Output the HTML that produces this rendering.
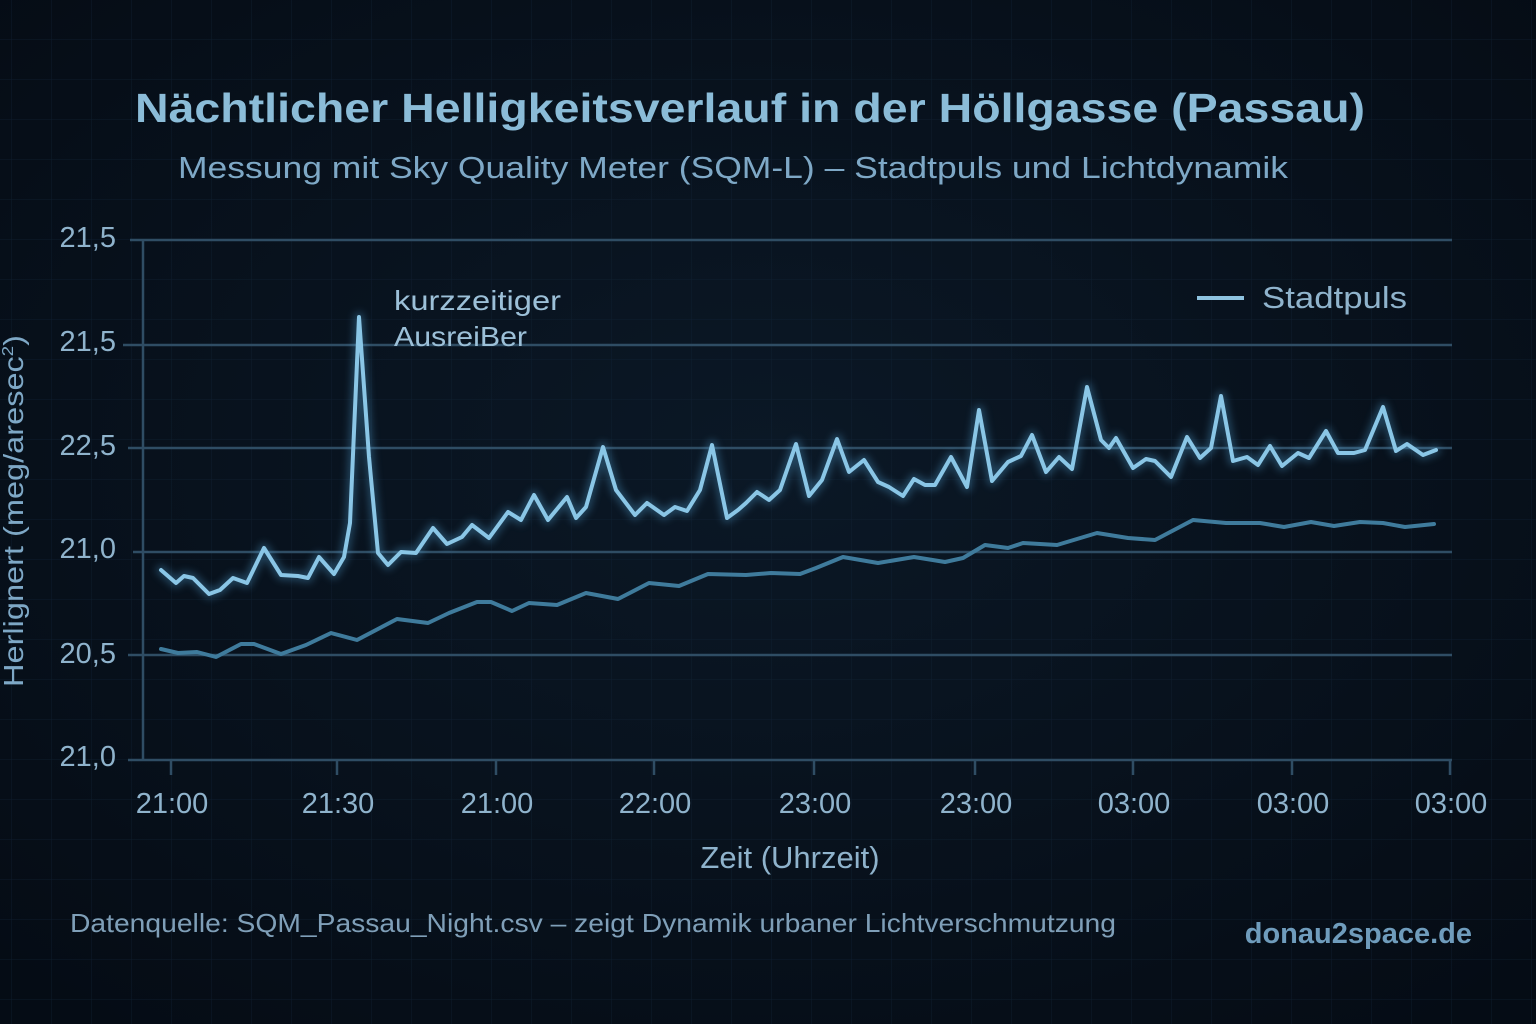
<!DOCTYPE html>
<html><head><meta charset="utf-8"><style>
html,body{margin:0;padding:0;background:#07101b;}
svg{display:block}
text{font-family:"Liberation Sans","DejaVu Sans",sans-serif;}
</style></head><body>
<svg width="1536" height="1024" viewBox="0 0 1536 1024" xmlns="http://www.w3.org/2000/svg">
<defs>
<radialGradient id="bg" cx="50%" cy="45%" r="70%">
<stop offset="0" stop-color="#0b1826"/><stop offset="1" stop-color="#050c15"/>
</radialGradient>
<filter id="glow" x="-10%" y="-10%" width="120%" height="120%"><feGaussianBlur stdDeviation="4"/></filter>
<pattern id="grid" width="40" height="40" patternUnits="userSpaceOnUse" x="12" y="0">
<path d="M40 0V40M0 40H40" fill="none" stroke="#13263a" stroke-width="1"/>
</pattern>
</defs>
<rect width="1536" height="1024" fill="url(#bg)"/>
<rect width="1536" height="1024" fill="url(#grid)" opacity="0.6"/>
<text x="135" y="122" font-size="41" font-weight="bold" fill="#8bbcd8" textLength="1230" lengthAdjust="spacingAndGlyphs">Nächtlicher Helligkeitsverlauf in der Höllgasse (Passau)</text>
<text x="178" y="178" font-size="31" fill="#7ea8c6" textLength="1110" lengthAdjust="spacingAndGlyphs">Messung mit Sky Quality Meter (SQM-L) – Stadtpuls und Lichtdynamik</text>
<g stroke="#2f4d64" stroke-width="2.5">
<line x1="130" y1="240" x2="1452" y2="240"/>
<line x1="123" y1="345" x2="1452" y2="345"/>
<line x1="128" y1="448" x2="1452" y2="448"/>
<line x1="133" y1="552" x2="1452" y2="552"/>
<line x1="128" y1="655" x2="1452" y2="655"/>
<line x1="128" y1="760" x2="1452" y2="760"/>
<line x1="143" y1="240" x2="143" y2="760"/>
<line x1="171" y1="760" x2="171" y2="775"/><line x1="337" y1="760" x2="337" y2="775"/><line x1="496" y1="760" x2="496" y2="775"/><line x1="654" y1="760" x2="654" y2="775"/><line x1="814" y1="760" x2="814" y2="775"/><line x1="975" y1="760" x2="975" y2="775"/><line x1="1133" y1="760" x2="1133" y2="775"/><line x1="1292" y1="760" x2="1292" y2="775"/><line x1="1450" y1="760" x2="1450" y2="775"/>
</g>
<g font-size="29" fill="#8fb3cc" text-anchor="end">
<text x="116" y="247">21,5</text><text x="116" y="351">21,5</text><text x="116" y="455">22,5</text><text x="116" y="558">21,0</text><text x="116" y="663">20,5</text><text x="116" y="766">21,0</text>
</g>
<g font-size="29" fill="#8fb3cc" text-anchor="middle">
<text x="172" y="813">21:00</text><text x="338" y="813">21:30</text><text x="497" y="813">21:00</text><text x="655" y="813">22:00</text><text x="815" y="813">23:00</text><text x="976" y="813">23:00</text><text x="1134" y="813">03:00</text><text x="1293" y="813">03:00</text><text x="1451" y="813">03:00</text>
</g>
<text x="790" y="868" font-size="31" fill="#8fb3cc" text-anchor="middle">Zeit (Uhrzeit)</text>
<text transform="translate(23,687) rotate(-90)" font-size="28" fill="#7ea8c6" textLength="352" lengthAdjust="spacingAndGlyphs">Herlignert (meg/aresec<tspan dy="-10" font-size="16">2</tspan><tspan dy="10">)</tspan></text>
<text x="394" y="310" font-size="28" fill="#9cc0d8" textLength="167" lengthAdjust="spacingAndGlyphs">kurzzeitiger</text>
<text x="394" y="346" font-size="28" fill="#9cc0d8" textLength="133" lengthAdjust="spacingAndGlyphs">AusreiBer</text>
<line x1="1197" y1="298" x2="1244" y2="298" stroke="#8ec3e0" stroke-width="4"/>
<text x="1262" y="308" font-size="31" fill="#8fb3cc" textLength="145" lengthAdjust="spacingAndGlyphs">Stadtpuls</text>
<text x="70" y="932" font-size="26" fill="#7f9fb8" textLength="1046" lengthAdjust="spacingAndGlyphs">Datenquelle: SQM_Passau_Night.csv – zeigt Dynamik urbaner Lichtverschmutzung</text>
<text x="1472" y="943" font-size="29" fill="#6f9cbc" text-anchor="end" font-weight="bold">donau2space.de</text>
<g fill="none" stroke-linejoin="round" stroke-linecap="round">
<polyline stroke="#3f7b9c" stroke-width="4" points="161,649 178,653 197,652 216,657 241,644 254,644 281,654 306,645 331,633 357,640 397,619 428,623 449,613 477,602 491,602 512,611 529,603 557,605 586,593 618,599 649,583 679,586 708,574 746,575 771,573 800,574 816,568 843,557 878,563 914,557 945,562 963,558 985,545 1008,548 1023,543 1057,545 1097,533 1128,538 1155,540 1193,520 1226,523 1260,523 1284,527 1311,522 1334,526 1360,522 1383,523 1405,527 1434,524"/>
<polyline stroke="#4f9ccc" stroke-width="10" opacity="0.35" filter="url(#glow)" points="161,570 176,583 184,576 193,578 209,594 220,590 233,578 247,583 264,548 281,575 298,576 308,578 319,557 334,574 344,557 350,523 359,317 369,457 378,553 388,565 401,552 416,553 433,528 447,544 462,537 472,525 489,538 508,512 521,520 534,495 548,520 567,497 576,518 586,507 603,447 616,490 635,515 647,503 664,515 675,507 687,511 700,490 712,445 727,518 738,510 746,503 757,492 769,500 780,490 796,444 809,496 822,480 837,439 849,472 864,460 878,482 889,487 903,496 914,479 925,485 935,485 951,457 967,487 979,410 992,481 1008,462 1021,456 1032,435 1046,472 1059,457 1072,469 1087,387 1101,440 1109,448 1116,438 1133,468 1146,459 1155,461 1171,477 1187,437 1200,458 1211,448 1221,396 1233,461 1247,457 1258,465 1270,446 1282,466 1298,453 1309,458 1326,431 1338,453 1354,453 1365,450 1383,407 1396,451 1407,444 1423,455 1436,450"/>
<polyline stroke="#8ac6e6" stroke-width="4" points="161,570 176,583 184,576 193,578 209,594 220,590 233,578 247,583 264,548 281,575 298,576 308,578 319,557 334,574 344,557 350,523 359,317 369,457 378,553 388,565 401,552 416,553 433,528 447,544 462,537 472,525 489,538 508,512 521,520 534,495 548,520 567,497 576,518 586,507 603,447 616,490 635,515 647,503 664,515 675,507 687,511 700,490 712,445 727,518 738,510 746,503 757,492 769,500 780,490 796,444 809,496 822,480 837,439 849,472 864,460 878,482 889,487 903,496 914,479 925,485 935,485 951,457 967,487 979,410 992,481 1008,462 1021,456 1032,435 1046,472 1059,457 1072,469 1087,387 1101,440 1109,448 1116,438 1133,468 1146,459 1155,461 1171,477 1187,437 1200,458 1211,448 1221,396 1233,461 1247,457 1258,465 1270,446 1282,466 1298,453 1309,458 1326,431 1338,453 1354,453 1365,450 1383,407 1396,451 1407,444 1423,455 1436,450"/>
</g>
</svg>
</body></html>
